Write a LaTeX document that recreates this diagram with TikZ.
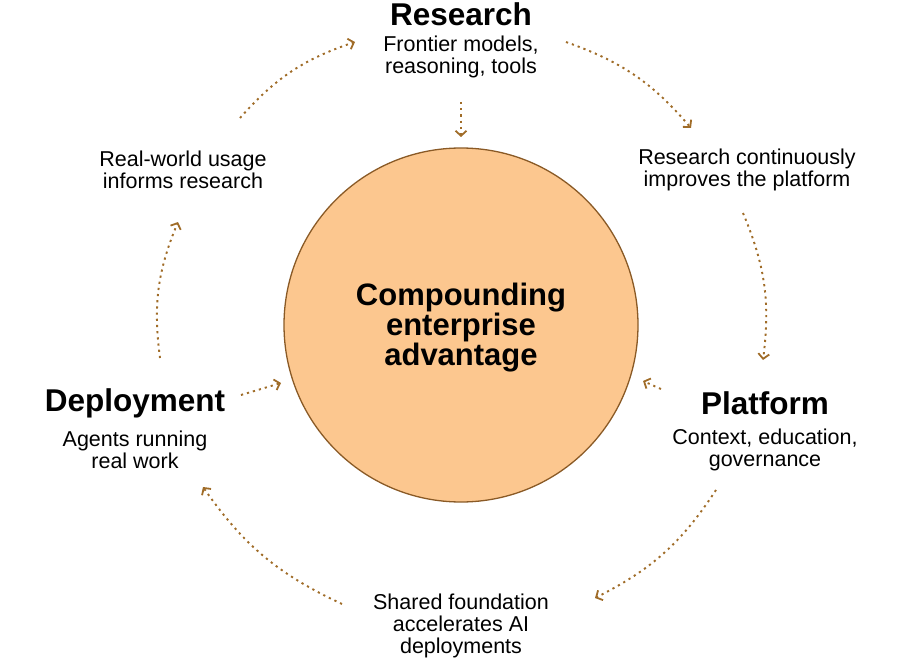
\documentclass[tikz,border=0pt]{standalone}
\usepackage{fontspec}
\setmainfont{Liberation Sans}
\usetikzlibrary{arrows.meta}
\definecolor{circfill}{HTML}{FCC78F}
\definecolor{circline}{HTML}{8A5A26}
\definecolor{arrowc}{HTML}{A06C28}
\tikzset{
  title/.style={font=\fontsize{31.5}{34}\selectfont\bfseries, text=black, align=center, inner sep=0pt},
  body/.style={font=\fontsize{21.5}{22}\selectfont, text=black, align=center, inner sep=0pt},
  center/.style={font=\fontsize{31}{30}\selectfont\bfseries, text=black, align=center, inner sep=0pt},
  flow/.style={draw=arrowc, line width=1.9pt, dash pattern=on 2.2pt off 4pt, line cap=butt,
    -{Straight Barb[length=5pt,width=11pt,line width=1.8pt]}},
}
\begin{document}
\begin{tikzpicture}[x=1pt,y=-1pt]
\useasboundingbox (0,0) rectangle (900,658);
\node[circle, draw=circline, fill=circfill, line width=1.3pt, minimum size=354pt, inner sep=0pt] (hub) at (461,325) {};
\node[center] (hubtext) at (461,328) {Compounding\\enterprise\\advantage};

\node[title] (research) at (461,14) {Research};
\node[body] (researchsub) at (461,57) {Frontier models,\\reasoning, tools};
\node[body] (usage) at (183,170) {Real-world usage\\informs research};
\node[body] (improves) at (747,170) {Research continuously\\improves the platform};
\node[title] (deploy) at (135,403) {Deployment};
\node[body] (deploysub) at (135,450) {Agents running\\real work};
\node[title] (platform) at (765,403) {Platform};
\node[body] (platformsub) at (765,450) {Context, education,\\governance};
\node[body] (shared) at (461,626) {Shared foundation\\accelerates AI\\deployments};

\coordinate (a1s) at (240,118); \coordinate (a1e) at (355,42);
\coordinate (a2s) at (461,102); \coordinate (a2e) at (461,137);
\coordinate (a3s) at (566,42);  \coordinate (a3e) at (691,128);
\coordinate (a4s) at (743,213); \coordinate (a4e) at (763,360);
\coordinate (a5s) at (241,395); \coordinate (a5e) at (281,383);
\coordinate (a6s) at (661,389); \coordinate (a6e) at (643,381);
\coordinate (a7s) at (716,490); \coordinate (a7e) at (595,598);
\coordinate (a8s) at (342,604); \coordinate (a8e) at (203,487);
\coordinate (a9s) at (160,358); \coordinate (a9e) at (178,222);

\draw[flow] (a1s) to[bend left=15] (a1e);
\draw[flow] (a2s) -- (a2e);
\draw[flow] (a3s) to[bend left=15] (a3e);
\draw[flow] (a4s) to[bend left=15] (a4e);
\draw[flow] (a5s) -- (a5e);
\draw[flow] (a6s) -- (a6e);
\draw[flow] (a7s) to[bend left=15] (a7e);
\draw[flow] (a8s) to[bend left=15] (a8e);
\draw[flow] (a9s) to[bend left=15] (a9e);
\end{tikzpicture}
\end{document}
